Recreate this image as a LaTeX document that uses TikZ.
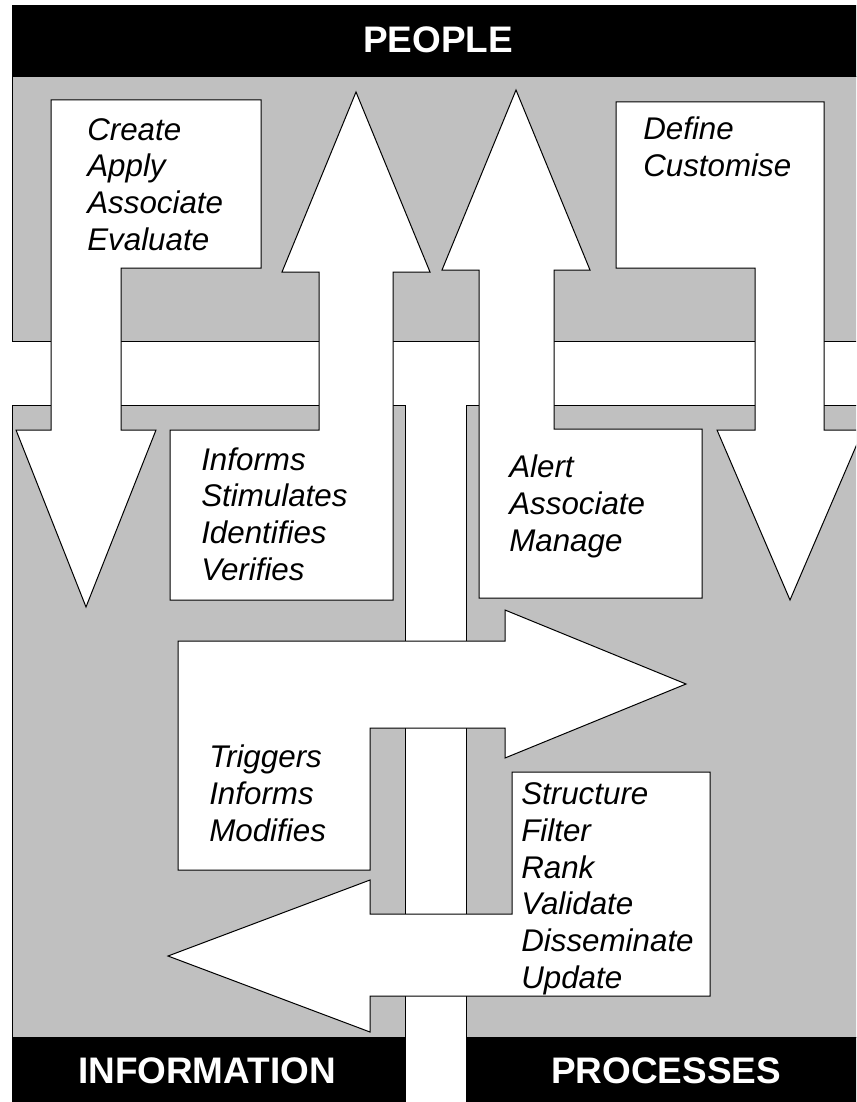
\documentclass[tikz,border=0pt]{standalone}
\usepackage{fontspec}
\setmainfont{Liberation Sans}
\definecolor{panelgray}{RGB}{192,192,192}
\tikzset{
  panel/.style={fill=panelgray, draw=black, line width=0.75pt},
  bar/.style={fill=black, draw=black, line width=0.75pt},
  flow/.style={fill=white, draw=black, line width=0.75pt, line join=miter},
  barlabel/.style={text=white, font=\fontsize{27.7}{32}\selectfont\bfseries, inner sep=0pt, anchor=base},
  % the base anchor of these blocks sits on the baseline of their last line
  verbs/.style={font=\fontsize{23.5}{27.5}\selectfont\itshape, align=left, inner sep=0pt, anchor=base west},
}
\begin{document}
\begin{tikzpicture}[x=0.75pt, y=-0.75pt]
\useasboundingbox (0,0) rectangle (856,1102);
\clip (0,0) rectangle (856,1102);

% the three panels with their title bars
\draw[panel] (12,77) rectangle (880,341);
\draw[bar]   (12,6)  rectangle (880,77);
\draw[panel] (12,405) rectangle (405,1037);
\draw[bar]   (12,1037) rectangle (405,1110);
\draw[panel] (466,405) rectangle (880,1037);
\draw[bar]   (466,1037) rectangle (880,1110);

% downward arrow, People -> Information
\draw[flow] (51,100) -- (261,100) -- (261,268) -- (121,268) -- (121,430)
  -- (156,430) -- (86,607) -- (16,430) -- (51,430) -- cycle;
% upward arrow, Information -> People
\draw[flow] (356,92) -- (430,272) -- (393,272) -- (393,600) -- (170,600)
  -- (170,430) -- (319,430) -- (319,272) -- (282,272) -- cycle;
% upward arrow, Processes -> People
\draw[flow] (516,90) -- (590,270) -- (554,270) -- (554,429) -- (702,429)
  -- (702,598) -- (479,598) -- (479,270) -- (442,270) -- cycle;
% downward arrow, People -> Processes
\draw[flow] (616,102) -- (824,102) -- (824,430) -- (863,430) -- (790,600)
  -- (717,430) -- (755,430) -- (755,268) -- (616,268) -- cycle;
% rightward arrow, Information -> Processes
\draw[flow] (178,641) -- (505,641) -- (505,610) -- (686,684) -- (505,758)
  -- (505,728) -- (370,728) -- (370,870) -- (178,870) -- cycle;
% leftward arrow, Processes -> Information
\draw[flow] (512,772) -- (710,772) -- (710,996) -- (370,996) -- (370,1032)
  -- (168,956) -- (370,880) -- (370,914) -- (512,914) -- cycle;

% bar titles
\node[barlabel] (people) at (438,53) {PEOPLE};
\node[barlabel] (information) at (207,1083) {INFORMATION};
\node[barlabel] (processes) at (666,1083) {PROCESSES};

% verbs on each flow
\node[verbs] (create)    at (87,250)  {Create\\Apply\\Associate\\Evaluate};
\node[verbs] (informs)   at (201,580) {Informs\\Stimulates\\Identifies\\Verifies};
\node[verbs] (alert)     at (509,551) {Alert\\Associate\\Manage};
\node[verbs] (define)    at (643,176) {Define\\Customise};
\node[verbs] (triggers)  at (209,841) {Triggers\\Informs\\Modifies};
\node[verbs] (structure) at (521,988) {Structure\\Filter\\Rank\\Validate\\Disseminate\\Update};
\end{tikzpicture}
\end{document}
